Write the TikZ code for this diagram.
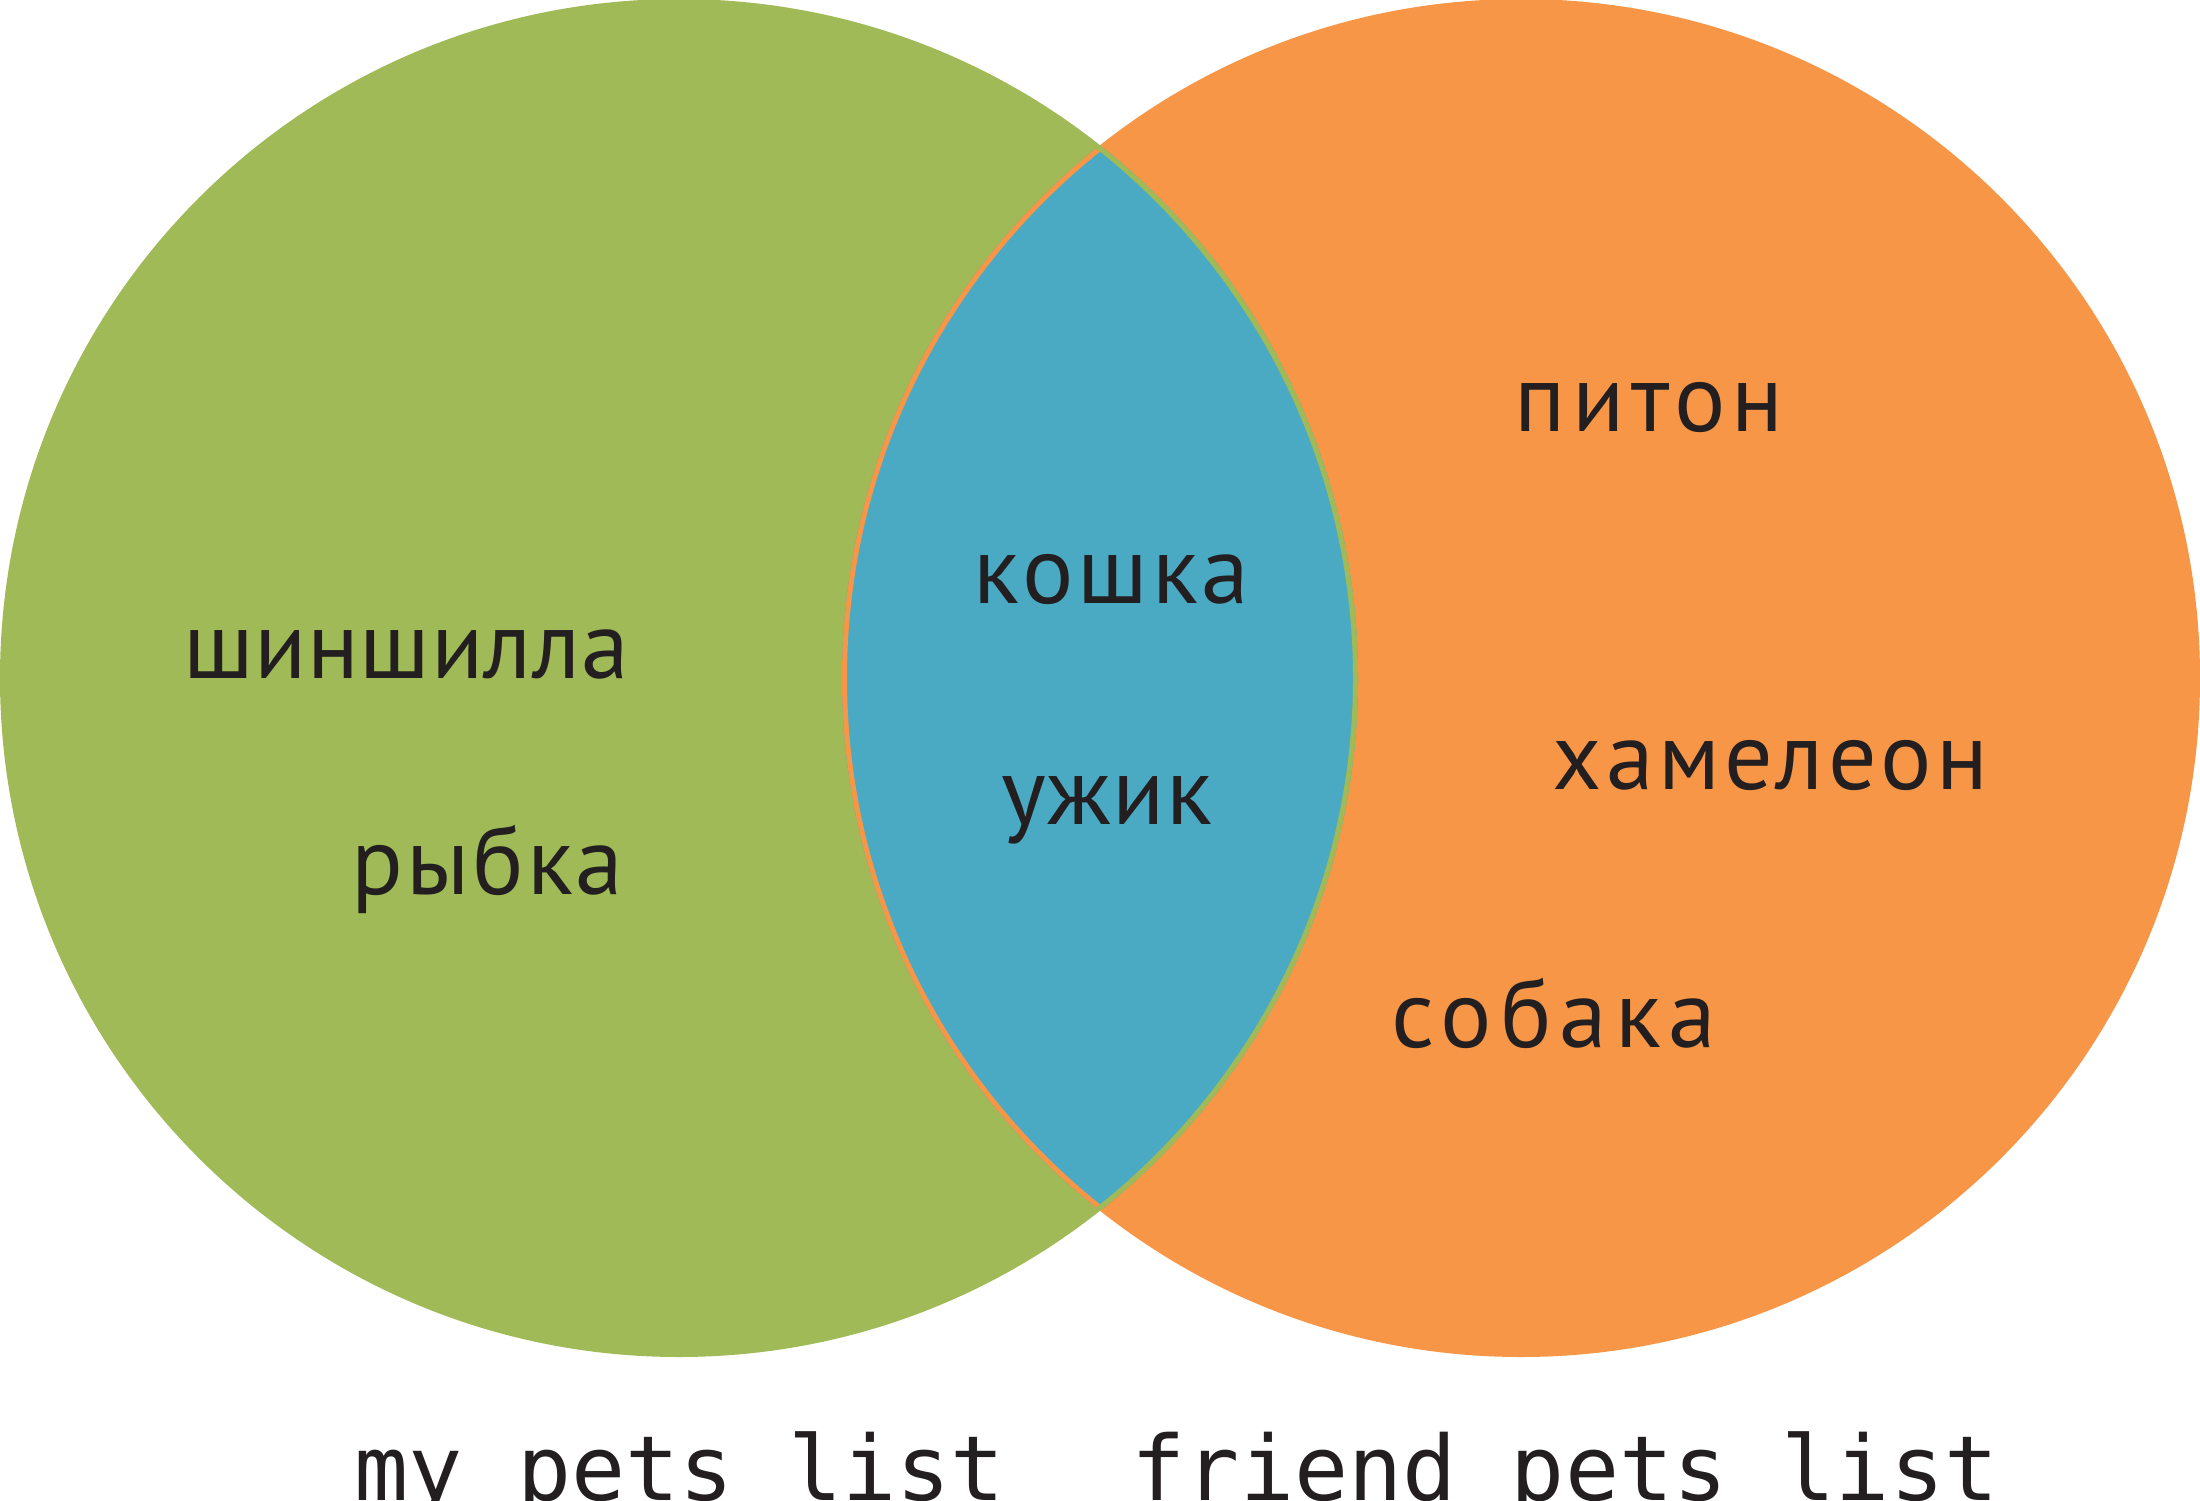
\documentclass[tikz,border=0pt]{standalone}
\usepackage{fontspec}
\setmainfont{PT Sans}
\newfontfamily\monof{DejaVu Sans Mono}
\definecolor{vgreen}{HTML}{9FBA56}
\definecolor{vorange}{HTML}{F79646}
\definecolor{vblue}{HTML}{4BAAC3}
\definecolor{vtext}{HTML}{231F20}
\tikzset{
  pet/.style={anchor=base west, inner sep=0pt, text=vtext, font=\fontsize{27.3}{30}\selectfont\addfontfeatures{LetterSpace=#1}},
  pet/.default=5,
  caption/.style={anchor=base west, inner sep=0pt, text=vtext, font=\monof\fontsize{25.6}{28}\selectfont}
}
\begin{document}
\begin{tikzpicture}
\useasboundingbox (0,0) rectangle (22,15);
\clip (0,0) rectangle (22,15);
\fill[vgreen] (6.79,8.22) circle (6.79);
\fill[vorange] (15.21,8.22) circle (6.79);
\begin{scope}
  \clip (6.79,8.22) circle (6.79);
  \clip (15.21,8.22) circle (6.79);
  \fill[vblue] (15.21,8.22) circle (6.79);
  \draw[vorange, line width=0.1cm] (15.21,8.22) circle (6.79);
  \draw[vgreen, line width=0.1cm] (6.79,8.22) circle (6.79);
\end{scope}
\node[pet=0.5] (a) at (1.83,8.22) {шиншилла};
\node[pet=3] (b) at (3.51,6.06) {рыбка};
\node[pet=4] (c) at (9.73,8.97) {кошка};
\node[pet=1.6] (d) at (10.01,6.76) {ужик};
\node[pet=6.6] (e) at (15.14,10.68) {питон};
\node[pet=4.6] (f) at (15.52,7.11) {хамелеон};
\node[pet=8.3] (g) at (13.91,4.53) {собака};
\node[caption] (m) at (3.54,0) {my pets list};
\node[caption] (n) at (11.31,0) {friend pets list};
\end{tikzpicture}
\end{document}
